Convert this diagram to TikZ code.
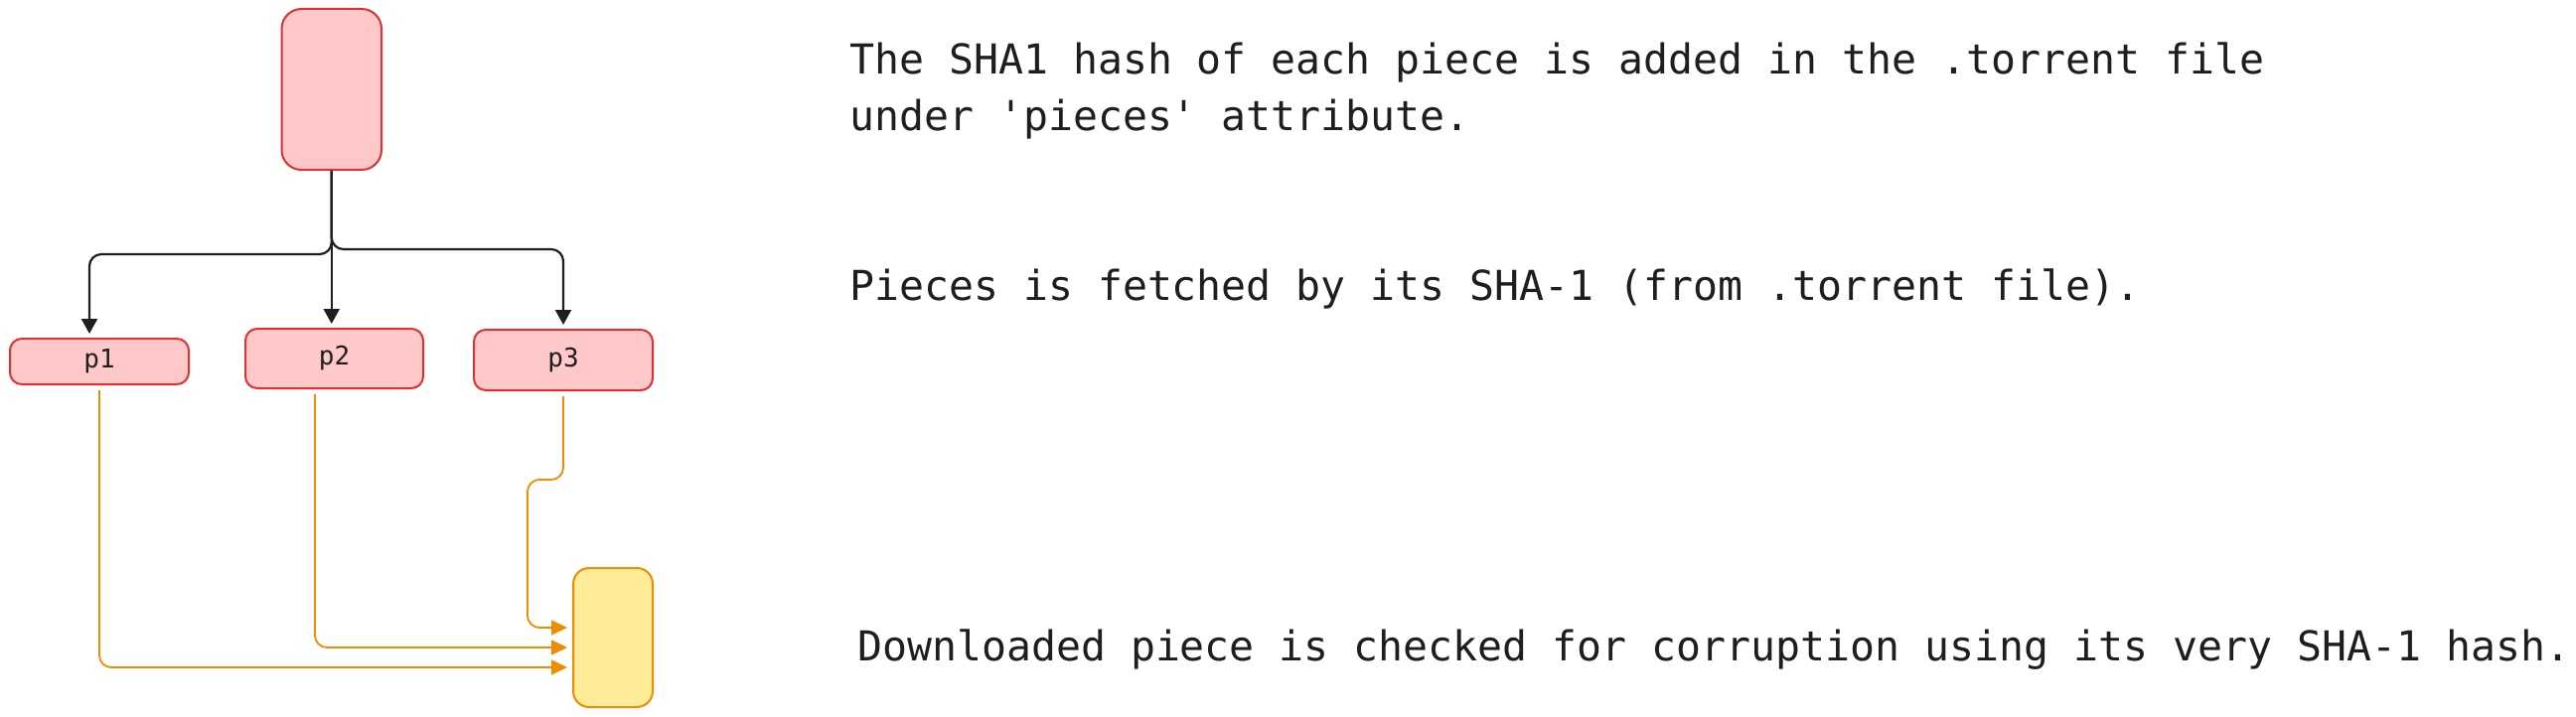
\documentclass[tikz,border=0pt]{standalone}
\usepackage{fontspec}
\setmonofont{DejaVu Sans Mono}
\usetikzlibrary{arrows.meta}
\definecolor{redfill}{HTML}{FFC9C9}
\definecolor{redline}{HTML}{E03131}
\definecolor{yelfill}{HTML}{FFEC99}
\definecolor{orng}{HTML}{F08C00}
\definecolor{ink}{HTML}{1E1E1E}
\tikzset{
  redbox/.style={draw=redline, fill=redfill, line width=2pt, rounded corners=12pt, inner sep=0pt,
    font=\ttfamily\fontsize{26}{30}\selectfont, text=ink},
  yelbox/.style={draw=orng, fill=yelfill, line width=2pt, rounded corners=16pt, inner sep=0pt},
  blk/.style={draw=ink, line width=2.2pt, rounded corners=12pt, shorten >=4pt,
    -{Triangle[length=15pt,width=16pt]}},
  org/.style={draw=orng, line width=1.8pt, rounded corners=12pt, shorten >=5pt, shorten <=5pt,
    -{Triangle[length=16pt,width=15pt]}},
  note/.style={anchor=base west, inner sep=0pt, text=ink,
    font=\ttfamily\fontsize{41.5}{57}\selectfont}
}
\begin{document}
\begin{tikzpicture}[x=1pt,y=-1pt]
\useasboundingbox[fill=white] (0,0) rectangle (2593,722);
% boxes
\node[redbox, minimum width=100.5pt, minimum height=162pt, rounded corners=20pt] (file) at (333.75,90) {};
\node[redbox, minimum width=180pt, minimum height=46pt] (p1) at (100,364) {p1};
\node[redbox, minimum width=179pt, minimum height=60pt] (p2) at (336.5,361) {p2};
\node[redbox, minimum width=180pt, minimum height=61pt] (p3) at (567,362.5) {p3};
\node[yelbox, minimum width=80pt, minimum height=140pt] (yel) at (617,642) {};
% black connectors
\draw[blk] (file.south) -- ++(0,84) -| ([xshift=-10pt]p1.north);
\draw[blk] (file.south) -- (file.south |- p2.north);
\draw[blk] (file.south) -- ++(0,79) -| (p3.north);
% orange connectors
\draw[org] (p1.south) |- ([yshift=-30pt]yel.west);
\draw[org] ([xshift=-19.5pt]p2.south) |- ([yshift=-10pt]yel.west);
\draw[org] (p3.south) -- ++(0,89) -- ++(-36,0) |- ([yshift=10pt]yel.west);
% notes
\node[note] (t1) at (855,75) {The SHA1 hash of each piece is added in the .torrent file};
\node[note] (t2) at (855,132) {under \textquotesingle pieces\textquotesingle{} attribute.};
\node[note] (t3) at (855,302) {Pieces is fetched by its SHA-1 (from .torrent file).};
\node[note] (t4) at (863,665) {Downloaded piece is checked for corruption using its very SHA-1 hash.};
\end{tikzpicture}
\end{document}
